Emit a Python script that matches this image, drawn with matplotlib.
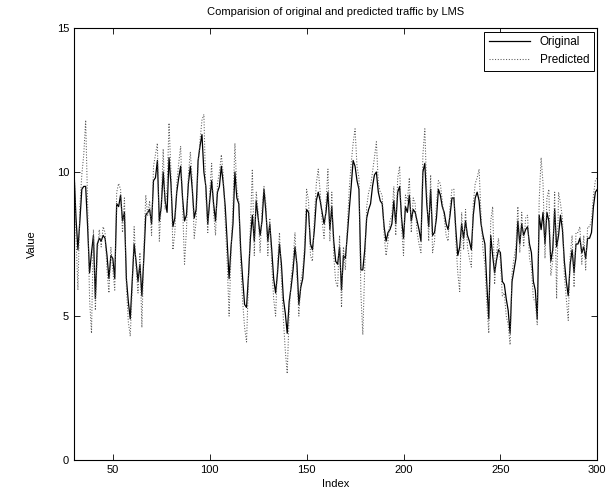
import numpy as np
import matplotlib
matplotlib.use("Agg")
import matplotlib.pyplot as plt

# sample index 30..300
index = np.arange(30, 301)

original = [
    10.0, 8.4, 7.3, 8.3, 9.4, 9.5, 9.5, 8.1, 6.5, 7.2,
    7.8, 5.6, 7.5, 7.7, 7.6, 7.8, 7.7, 7.1, 6.3, 7.1,
    7.0, 6.3, 8.9, 8.8, 9.2, 8.3, 8.6, 6.3, 5.5, 4.9,
    6.2, 7.5, 6.9, 6.2, 6.8, 5.7, 7.0, 8.5, 8.6, 8.7,
    8.2, 9.7, 9.8, 10.4, 8.3, 8.8, 10.0, 9.0, 8.6, 10.5,
    9.6, 8.1, 8.4, 9.3, 9.8, 10.2, 9.1, 8.3, 8.5, 9.6,
    10.2, 9.4, 8.4, 8.7, 10.4, 10.9, 11.3, 10.0, 9.5, 8.2,
    9.0, 9.7, 8.9, 8.3, 9.3, 9.5, 10.2, 9.6, 8.8, 7.6,
    6.3, 7.4, 8.2, 10.0, 9.1, 8.9, 7.3, 6.3, 5.4, 5.3,
    6.4, 7.7, 8.5, 7.6, 9.0, 8.4, 7.8, 8.3, 9.4, 8.6,
    7.6, 8.2, 7.3, 6.3, 5.8, 6.5, 7.5, 6.8, 5.6, 5.1,
    4.4, 5.5, 6.0, 6.6, 7.4, 6.8, 5.4, 6.0, 6.3, 7.2,
    8.7, 8.6, 7.5, 7.3, 8.0, 9.0, 9.3, 9.0, 8.6, 8.2,
    8.6, 9.3, 8.0, 8.8, 7.6, 6.9, 6.8, 7.4, 5.9, 7.1,
    7.0, 7.8, 8.7, 9.5, 10.4, 10.2, 9.7, 9.4, 6.6, 6.6,
    7.3, 8.4, 8.7, 8.9, 9.5, 9.9, 10.0, 9.3, 9.0, 8.9,
    8.1, 7.6, 7.9, 8.0, 8.2, 9.0, 8.2, 9.3, 9.5, 8.4,
    7.7, 8.8, 8.6, 9.2, 8.3, 8.7, 8.6, 8.3, 8.0, 7.6,
    10.0, 10.3, 8.9, 8.1, 9.4, 7.8, 7.9, 8.4, 9.4, 9.2,
    8.8, 8.6, 8.2, 8.0, 8.5, 9.1, 9.1, 8.0, 7.1, 7.4,
    8.2, 7.7, 8.3, 7.8, 7.6, 7.3, 8.5, 9.1, 9.3, 9.0,
    8.2, 7.8, 7.5, 6.1, 4.9, 7.8, 7.1, 6.5, 6.95, 7.3,
    7.2, 6.2, 6.1, 5.6, 5.2, 4.4, 6.2, 6.6, 7.0, 8.3,
    7.5, 8.2, 7.8, 8.0, 8.1, 7.5, 7.2, 6.2, 5.9, 4.9,
    8.5, 8.0, 8.6, 7.5, 8.6, 8.3, 6.9, 7.3, 8.7, 7.4,
    7.8, 8.5, 8.0, 6.9, 6.2, 5.7, 6.8, 7.3, 6.5, 7.5,
    7.5, 7.7, 7.2, 7.4, 7.0, 7.7, 7.7, 7.9, 8.8, 9.3,
    9.4,
]

predicted = [
    10.3, 7.8, 5.9, 8.8, 9.9, 10.6, 11.8, 8.9, 5.6, 4.4,
    8.0, 5.2, 7.2, 8.0, 7.4, 8.1, 7.9, 6.6, 5.8, 7.4,
    6.6, 5.9, 9.3, 9.6, 9.4, 7.9, 9.1, 6.0, 4.8, 4.3,
    5.9, 8.1, 6.7, 5.8, 7.2, 4.6, 7.3, 9.2, 8.5, 9.0,
    7.8, 10.2, 10.6, 11.0, 7.6, 8.9, 10.8, 8.7, 9.4, 11.7,
    10.0, 7.3, 7.9, 9.6, 10.3, 10.9, 8.8, 6.8, 8.0, 9.9,
    10.7, 9.7, 7.7, 8.3, 10.2, 11.1, 11.8, 12.0, 9.2, 7.9,
    9.3, 10.3, 8.6, 7.8, 9.6, 10.0, 10.6, 9.9, 8.3, 6.9,
    5.0, 7.2, 8.8, 11.0, 9.4, 9.0, 6.8, 5.5, 4.6, 4.1,
    6.2, 8.1, 10.1, 7.1, 9.3, 8.6, 7.2, 8.7, 9.5, 8.9,
    7.1, 8.4, 6.8, 5.6, 5.0, 6.8, 7.9, 6.3, 4.9, 3.8,
    3.0, 5.1, 6.3, 6.9, 7.9, 6.4, 5.0, 6.2, 6.6, 7.5,
    9.4, 9.0, 7.1, 6.9, 8.4, 9.6, 10.1, 9.3, 8.3, 7.7,
    8.9, 10.1, 7.6, 9.3, 7.1, 6.2, 6.0, 7.8, 5.3, 7.4,
    6.6, 8.1, 9.4, 10.3, 11.0, 11.5, 10.2, 9.8, 5.8, 4.35,
    6.7, 8.8, 9.3, 9.5, 10.0, 10.5, 11.05, 9.6, 9.3, 9.2,
    7.8, 7.1, 7.6, 8.3, 8.5, 9.5, 7.8, 9.8, 10.2, 8.1,
    7.1, 9.2, 9.0, 9.8, 7.9, 9.1, 8.9, 7.9, 7.5, 7.2,
    10.6, 11.5, 9.3, 7.6, 9.9, 7.2, 7.6, 8.9, 9.7, 9.6,
    9.0, 8.4, 7.8, 7.6, 8.8, 9.4, 9.4, 7.6, 6.5, 5.85,
    8.6, 7.3, 8.7, 7.4, 7.0, 6.7, 8.9, 9.6, 9.8, 10.1,
    8.5, 7.3, 6.8, 5.4, 4.4, 8.3, 8.8, 6.1, 7.2, 7.7,
    6.9, 5.7, 5.8, 5.0, 4.7, 4.0, 6.5, 7.0, 7.4, 8.8,
    7.2, 8.6, 7.4, 8.4, 8.5, 7.0, 6.7, 5.6, 5.5, 4.7,
    9.0, 10.5, 9.6, 7.0, 9.1, 9.4, 6.4, 6.9, 9.3, 5.6,
    9.3, 8.9, 8.4, 6.4, 5.6, 4.85, 7.1, 7.8, 6.0, 7.9,
    7.9, 8.1, 6.8, 7.8, 6.6, 8.1, 8.1, 8.3, 9.2, 9.7,
    9.8,
]

plt.rcParams['font.family'] = ['Liberation Sans', 'DejaVu Sans']
plt.rcParams['font.size'] = 8

fig = plt.figure(figsize=(6.12, 4.91), dpi=100)
ax = fig.add_axes([0.121, 0.063, 0.855, 0.88])

ax.plot(index, original, '-', color='black', linewidth=0.9, label='Original')
ax.plot(index, predicted, ':', color='0.35', linewidth=0.75, label='Predicted')

ax.set_xlim(30, 300)
ax.set_ylim(0, 15)
ax.set_xticks([50, 100, 150, 200, 250, 300])
ax.set_yticks([0, 5, 10, 15])
ax.tick_params(direction='in', top=True, right=True, length=4, width=0.6)
for s in ax.spines.values():
    s.set_linewidth(0.8)

ax.set_title('Comparision of original and predicted traffic by LMS', fontsize=8, pad=9)
ax.set_xlabel('Index', labelpad=3)
ax.set_ylabel('Value', labelpad=14)

leg = ax.legend(loc='upper right', fancybox=False, framealpha=1, edgecolor='black',
                borderaxespad=0.3, handlelength=3.5, fontsize=8.5)
leg.get_frame().set_linewidth(0.7)

plt.savefig('out.png', dpi=100)
